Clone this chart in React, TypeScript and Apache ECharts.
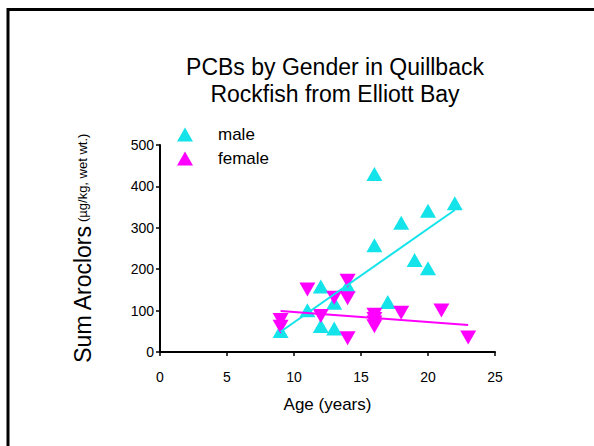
import React, { useEffect, useRef } from "react";
import * as echarts from "echarts";

const maleAge = [9, 11, 12, 12, 13, 13, 14, 16, 16, 17, 18, 19, 20, 20, 22];
const maleVal = [51, 101, 158, 63, 119, 57, 160, 430, 258, 121, 312, 222, 202, 341, 359];
const femaleAge = [9, 9, 11, 12, 13, 14, 14, 14, 16, 16, 16, 16, 18, 21, 23];
const femaleVal = [77, 61, 151, 87, 131, 172, 130, 33, 90, 80, 71, 62, 95, 100, 35];
const maleTrend = [[9, 49], [22, 343]];
const femaleTrend = [[9, 99], [23, 65]];
const xTicks = [0, 5, 10, 15, 20, 25];
const yTicks = [0, 100, 200, 300, 400, 500];

const CYAN = "#14E3EA";
const MAGENTA = "#FF00FF";
const FONT = "Liberation Sans, Arial, sans-serif";

export default function App() {
  const ref = useRef<HTMLDivElement>(null);
  useEffect(() => {
    if (!ref.current) return;
    const chart = echarts.init(ref.current, null, { renderer: "svg" });
    chart.setOption({
      animation: false,
      backgroundColor: "#ffffff",
      textStyle: { fontFamily: FONT },
      title: {
        text: "PCBs by Gender in Quillback\nRockfish from Elliott Bay",
        left: 330,
        textAlign: "center",
        top: 48,
        textStyle: { fontFamily: FONT, fontSize: 23, fontWeight: "normal", color: "#000", lineHeight: 27 },
      },
      legend: {
        orient: "vertical",
        left: 172,
        top: 121,
        itemGap: 7,
        itemWidth: 16,
        itemHeight: 14,
        data: ["male", "female"],
        textStyle: { fontFamily: FONT, fontSize: 17, color: "#000", padding: [0, 0, 0, 20] },
      },
      grid: { left: 160, right: 99, top: 145, bottom: 94 },
      xAxis: {
        type: "value",
        min: xTicks[0],
        max: xTicks[xTicks.length - 1],
        interval: 5,
        name: "Age (years)",
        nameLocation: "middle",
        nameGap: 44,
        nameTextStyle: { fontFamily: FONT, fontSize: 17, color: "#000" },
        axisLine: { show: true, lineStyle: { color: "#000", width: 2 } },
        axisTick: { show: true, length: 4, lineStyle: { color: "#000", width: 1.5 } },
        axisLabel: { fontFamily: FONT, fontSize: 14, color: "#000", margin: 18 },
        splitLine: { show: false },
      },
      yAxis: {
        type: "value",
        min: yTicks[0],
        max: yTicks[yTicks.length - 1],
        interval: 100,
        name: "{a|Sum Aroclors} {b|(µg/kg, wet wt.)}",
        nameLocation: "middle",
        nameGap: 66,
        nameTextStyle: {
          rich: {
            a: { fontFamily: FONT, fontSize: 23, color: "#000" },
            b: { fontFamily: FONT, fontSize: 13, color: "#000" },
          },
        },
        axisLine: { show: true, lineStyle: { color: "#000", width: 2 } },
        axisTick: { show: true, length: 4, lineStyle: { color: "#000", width: 1.5 } },
        axisLabel: { fontFamily: FONT, fontSize: 14, color: "#000", margin: 6 },
        splitLine: { show: false },
      },
      graphic: [
        { type: "line", shape: { x1: 8, y1: 9.5, x2: 600, y2: 9.5 }, style: { stroke: "#000", lineWidth: 3 } },
        { type: "line", shape: { x1: 8, y1: 8, x2: 8, y2: 450 }, style: { stroke: "#000", lineWidth: 3 } },
      ],
      series: [
        {
          name: "male",
          type: "scatter",
          symbol: "triangle",
          symbolSize: [16, 14],
          itemStyle: { color: CYAN, opacity: 1 },
          data: maleAge.map((a, i) => [a, maleVal[i]]),
          z: 3,
        },
        {
          name: "female",
          type: "scatter",
          symbol: "triangle",
          symbolRotate: 180,
          symbolSize: [16, 14],
          itemStyle: { color: MAGENTA, opacity: 1 },
          data: femaleAge.map((a, i) => [a, femaleVal[i]]),
          z: 4,
        },
        {
          name: "male trend",
          type: "line",
          data: maleTrend,
          symbol: "none",
          lineStyle: { color: CYAN, width: 2 },
          z: 5,
        },
        {
          name: "female trend",
          type: "line",
          data: femaleTrend,
          symbol: "none",
          lineStyle: { color: MAGENTA, width: 2 },
          z: 5,
        },
      ],
    });
    return () => chart.dispose();
  }, []);
  return (
    <div
      ref={ref}
      style={{ position: "fixed", left: 0, top: 0, width: 594, height: 446 }}
    />
  );
}
